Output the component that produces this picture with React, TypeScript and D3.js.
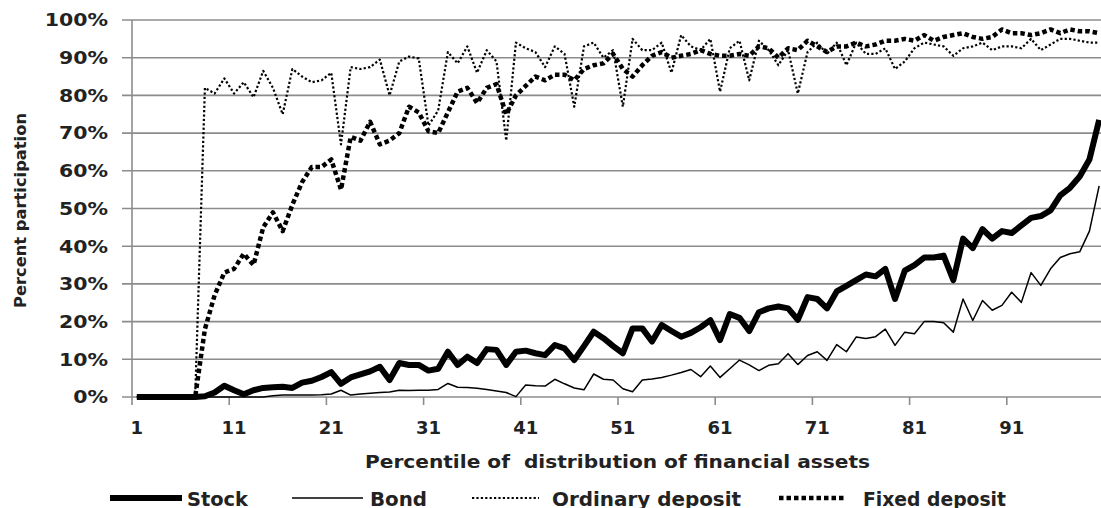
import { useEffect, useRef } from 'react';
import * as d3 from 'd3';

// percentile categories on the x axis
const percentiles = d3.range(1, 101);
const xTickLabels = [1, 11, 21, 31, 41, 51, 61, 71, 81, 91];
const yTicks = [0, 10, 20, 30, 40, 50, 60, 70, 80, 90, 100];

// percent participation by percentile
const stock = [
  0, 0, 0, 0, 0, 0, 0, 0.2, 1.2, 3,
  1.8, 0.7, 1.8, 2.4, 2.6, 2.7, 2.4, 3.8, 4.3, 5.3,
  6.6, 3.5, 5.2, 6, 6.8, 8, 4.5, 9, 8.5, 8.5,
  7, 7.5, 12, 8.5, 10.7, 9, 12.7, 12.5, 8.5, 12,
  12.3, 11.6, 11.1, 13.8, 12.9, 9.8, 13.5, 17.3, 15.6, 13.5,
  11.6, 18.2, 18.2, 14.7, 19.1, 17.5, 16, 17, 18.5, 20.4,
  15.1, 22, 21, 17.5, 22.5, 23.5, 24, 23.5, 20.5, 26.5,
  26, 23.5, 28, 29.5, 31, 32.5, 32, 34, 26, 33.5,
  35, 37, 37, 37.5, 31, 42, 39.5, 44.5, 42, 44,
  43.5, 45.5, 47.5, 48, 49.5, 53.5, 55.5, 58.5, 63, 73.5,
];

const bond = [
  0, 0, 0, 0, 0, 0, 0, 0, 0, 0,
  0, 0, 0, 0, 0.3, 0.5, 0.5, 0.5, 0.5, 0.6,
  0.8, 1.8, 0.5, 0.8, 1, 1.2, 1.3, 1.8, 1.7, 1.8,
  1.8, 2, 3.6, 2.6, 2.5, 2.3, 2, 1.6, 1.2, 0.1,
  3.2, 3, 2.9, 4.7, 3.5, 2.4, 1.9, 6.1, 4.7, 4.5,
  2.2, 1.4, 4.5, 4.8, 5.2, 5.8, 6.5, 7.3, 5.4, 8.2,
  5.2, 7.5, 9.8, 8.5, 7, 8.4, 8.8, 11.5, 8.6, 11,
  12, 9.7, 13.9, 12, 15.9, 15.5, 16, 18, 13.7, 17.2,
  16.8, 20, 20, 19.7, 17.2, 26, 20.3, 25.6, 23, 24.3,
  27.8, 25.1, 33, 29.6, 34, 37, 38, 38.5, 44, 56,
];

const ordinaryDeposit = [
  0, 0, 0, 0, 0, 0, 0, 82, 80.5, 84.5,
  80.5, 83.5, 79.5, 86.5, 82, 75, 87, 85, 83.5, 84,
  86, 67, 87.5, 87, 87.5, 89.5, 80, 89, 90.3, 89.8,
  72, 76, 91.5, 88.5, 93, 86, 92, 89, 68, 94,
  92.5, 91.5, 87.5, 93, 91, 77, 93, 94, 90, 92,
  77, 95, 92, 92, 94, 86, 96, 93, 92, 95,
  81, 92.5, 94.5, 84, 94.5, 92, 88, 92, 80.5, 91.5,
  94, 91, 94, 88, 94, 91, 91, 92.5, 87, 89,
  92.5, 94, 93.5, 93, 90.5, 92.5, 93, 94, 92, 93,
  93, 92.5, 95, 92, 93.5, 95, 95, 94.5, 94, 94,
];

const fixedDeposit = [
  0, 0, 0, 0, 0, 0, 0, 18, 27, 33,
  34, 38, 35, 45, 49, 44, 51, 57, 61, 61,
  63, 55, 69, 68, 73, 67, 68, 70, 77, 75.5,
  70.5, 70, 75.5, 81, 82, 78, 82, 83, 75, 80,
  82.5, 85, 84, 85.5, 85.5, 84, 87, 88, 88.5, 91,
  87, 85, 88, 90.5, 91.5, 90, 90.5, 91, 92, 91,
  90.5, 90.5, 91, 90.5, 93, 92.5, 90, 92.5, 92, 94.5,
  93, 91.5, 93, 93, 94, 93, 93.5, 94.5, 94.5, 95,
  94.5, 96, 94.5, 95.5, 96, 96.5, 95.5, 95, 95.5, 97.5,
  96.5, 96.5, 96, 96.5, 97.5, 96.5, 97.5, 97, 97, 96.5,
];

const seriesNames = ['Stock', 'Bond', 'Ordinary deposit', 'Fixed deposit'];
const seriesValues = [stock, bond, ordinaryDeposit, fixedDeposit];

const styles = [
  { width: 6, dash: null },
  { width: 1.5, dash: null },
  { width: 2.2, dash: '2.2,2.2' },
  { width: 4.5, dash: '4.5,3' },
];

const FONT = '"DejaVu Sans", "Liberation Sans", sans-serif';

export default function App() {
  const svgRef = useRef<SVGSVGElement>(null);

  useEffect(() => {
    if (!svgRef.current) return;
    const svg = d3.select(svgRef.current);
    svg.selectAll('*').remove();

    const left = 132;
    const right = 1104;
    const top = 20;
    const bottom = 397;
    const gridColor = '#8c8c8c';

    const x = d3.scalePoint<number>().domain(percentiles).range([left, right]).padding(0.5);
    const step = x.step();
    const y = d3.scaleLinear().domain([0, 100]).range([bottom, top]);

    // Grid + y ticks
    svg.append('g')
      .selectAll('line')
      .data(yTicks)
      .enter()
      .append('line')
      .attr('x1', left - 10)
      .attr('x2', right)
      .attr('y1', d => y(d))
      .attr('y2', d => y(d))
      .attr('stroke', gridColor)
      .attr('stroke-width', 1.6);

    // y axis line
    svg.append('line')
      .attr('x1', left).attr('x2', left)
      .attr('y1', y(100)).attr('y2', bottom)
      .attr('stroke', gridColor)
      .attr('stroke-width', 1.6);

    // x ticks, every 10 categories
    svg.append('g')
      .selectAll('line')
      .data(d3.range(0, 11))
      .enter()
      .append('line')
      .attr('x1', k => left + k * 10 * step)
      .attr('x2', k => left + k * 10 * step)
      .attr('y1', bottom)
      .attr('y2', bottom + 8)
      .attr('stroke', gridColor)
      .attr('stroke-width', 1.6);

    // y tick labels
    svg.append('g')
      .selectAll('g')
      .data(yTicks)
      .enter()
      .append('g')
      .attr('transform', d => `translate(108, ${y(d)}) scale(1.17, 1)`)
      .append('text')
      .attr('text-anchor', 'end')
      .attr('dy', '0.36em')
      .attr('font-family', FONT)
      .attr('font-weight', 'bold')
      .attr('font-size', 17.5)
      .attr('fill', '#222')
      .text(d => `${d}%`);

    // x tick labels
    svg.append('g')
      .selectAll('text')
      .data(xTickLabels)
      .enter()
      .append('text')
      .attr('x', d => x(d)!)
      .attr('y', 434)
      .attr('text-anchor', 'middle')
      .attr('font-family', FONT)
      .attr('font-weight', 'bold')
      .attr('font-size', 18)
      .attr('fill', '#222')
      .text(d => d);

    // axis titles
    svg.append('text')
      .attr('x', 365)
      .attr('y', 468)
      .attr('textLength', 505)
      .attr('lengthAdjust', 'spacingAndGlyphs')
      .attr('font-family', FONT)
      .attr('font-weight', 'bold')
      .attr('font-size', 18)
      .attr('fill', '#222')
      .style('white-space', 'pre')
      .text('Percentile of  distribution of financial assets');

    svg.append('text')
      .attr('transform', 'translate(25.5, 308) rotate(-90)')
      .attr('textLength', 195)
      .attr('lengthAdjust', 'spacingAndGlyphs')
      .attr('font-family', FONT)
      .attr('font-weight', 'bold')
      .attr('font-size', 16.5)
      .attr('fill', '#222')
      .text('Percent participation');

    // Lines
    const line = d3.line<number>()
      .x((_, i) => x(percentiles[i])!)
      .y(d => y(d));

    seriesValues.forEach((values, i) => {
      const p = svg.append('path')
        .datum(values)
        .attr('fill', 'none')
        .attr('stroke', '#000')
        .attr('stroke-width', styles[i].width)
        .attr('stroke-linejoin', 'round')
        .attr('d', line);
      if (styles[i].dash) p.attr('stroke-dasharray', styles[i].dash);
    });

    // Legend
    const legendItems = [
      { x1: 110, x2: 182, tx: 187, tl: 61 },
      { x1: 292, x2: 363, tx: 370, tl: 57 },
      { x1: 472, x2: 539, tx: 552, tl: 189 },
      { x1: 779, x2: 844, tx: 863, tl: 143 },
    ];
    const legend = svg.append('g');
    seriesNames.forEach((name, i) => {
      const it = legendItems[i];
      const l = legend.append('line')
        .attr('x1', it.x1).attr('x2', it.x2)
        .attr('y1', 498).attr('y2', 498)
        .attr('stroke', '#000')
        .attr('stroke-width', styles[i].width);
      if (styles[i].dash) l.attr('stroke-dasharray', styles[i].dash);
      legend.append('text')
        .attr('x', it.tx)
        .attr('y', 505.5)
        .attr('textLength', it.tl)
        .attr('lengthAdjust', 'spacingAndGlyphs')
        .attr('font-family', FONT)
        .attr('font-weight', 'bold')
        .attr('font-size', 19)
        .attr('fill', '#222')
        .text(name);
    });
  }, []);

  return (
    <div style={{ position: 'absolute', left: 0, top: 0, background: '#fff' }}>
      <svg ref={svgRef} width={1101} height={508} style={{ display: 'block' }}></svg>
    </div>
  );
}
